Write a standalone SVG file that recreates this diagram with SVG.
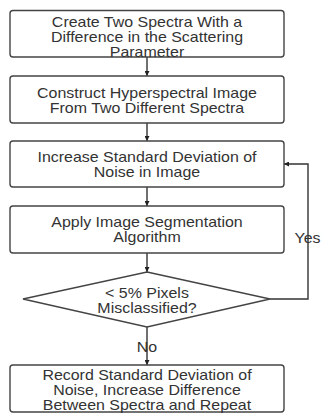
<svg xmlns="http://www.w3.org/2000/svg" width="321" height="414" viewBox="0 0 321 414">
<style>
.box{fill:#fff;stroke:#444;stroke-width:1.4}
.t{font-family:"Liberation Sans",Arial,sans-serif;font-size:14px;fill:#333;text-anchor:middle}
.c{fill:none;stroke:#333;stroke-width:1.4}
</style>
<defs>
<marker id="ah" viewBox="0 0 10 10" refX="10" refY="5" markerWidth="5" markerHeight="5" orient="auto" markerUnits="userSpaceOnUse">
<path d="M0,0 L10,5 L0,10 z" fill="#222"/>
</marker>
</defs>
<rect width="321" height="414" fill="#fff"/>
<g id="connectors">
<line class="c" x1="147" y1="57" x2="147" y2="76" marker-end="url(#ah)"/>
<line class="c" x1="147" y1="123" x2="147" y2="141" marker-end="url(#ah)"/>
<line class="c" x1="147" y1="187" x2="147" y2="206" marker-end="url(#ah)"/>
<line class="c" x1="147" y1="253" x2="147" y2="272" marker-end="url(#ah)"/>
<line class="c" x1="147" y1="327" x2="147" y2="365" marker-end="url(#ah)"/>
<polyline class="c" points="270,299 308,299 308,164 284,164" marker-end="url(#ah)"/>
<g transform="translate(147 0) scale(1.14 1)"><text class="t" x="0" y="352">No</text></g>
<g transform="translate(307.5 0) scale(1.14 1)"><text class="t" x="0" y="243">Yes</text></g>
</g>
<g id="n1">
<rect class="box" x="10" y="10.5" width="274" height="46.5" rx="3"/>
<g transform="translate(147 0) scale(1.14 1)">
<text class="t" x="0" y="27">Create Two Spectra With a</text>
<text class="t" x="0" y="42">Difference in the Scattering</text>
<text class="t" x="0" y="57">Parameter</text>
</g>
</g>
<g id="n2">
<rect class="box" x="10" y="76" width="274" height="47" rx="3"/>
<g transform="translate(147 0) scale(1.14 1)">
<text class="t" x="0" y="98">Construct Hyperspectral Image</text>
<text class="t" x="0" y="113">From Two Different Spectra</text>
</g>
</g>
<g id="n3">
<rect class="box" x="10" y="141" width="274" height="46" rx="3"/>
<g transform="translate(147 0) scale(1.14 1)">
<text class="t" x="0" y="162">Increase Standard Deviation of</text>
<text class="t" x="0" y="177">Noise in Image</text>
</g>
</g>
<g id="n4">
<rect class="box" x="10" y="206" width="274" height="47" rx="3"/>
<g transform="translate(147 0) scale(1.14 1)">
<text class="t" x="0" y="227">Apply Image Segmentation</text>
<text class="t" x="0" y="242">Algorithm</text>
</g>
</g>
<g id="n5">
<polygon class="box" points="147,272 270,299 147,327 23,299"/>
<g transform="translate(147 0) scale(1.14 1)">
<text class="t" x="0" y="298">&lt; 5% Pixels</text>
<text class="t" x="0" y="313">Misclassified?</text>
</g>
</g>
<g id="n6">
<rect class="box" x="10" y="365" width="274" height="47" rx="3"/>
<g transform="translate(147 0) scale(1.14 1)">
<text class="t" x="0" y="380">Record Standard Deviation of</text>
<text class="t" x="0" y="395">Noise, Increase Difference</text>
<text class="t" x="0" y="410">Between Spectra and Repeat</text>
</g>
</g>
</svg>
